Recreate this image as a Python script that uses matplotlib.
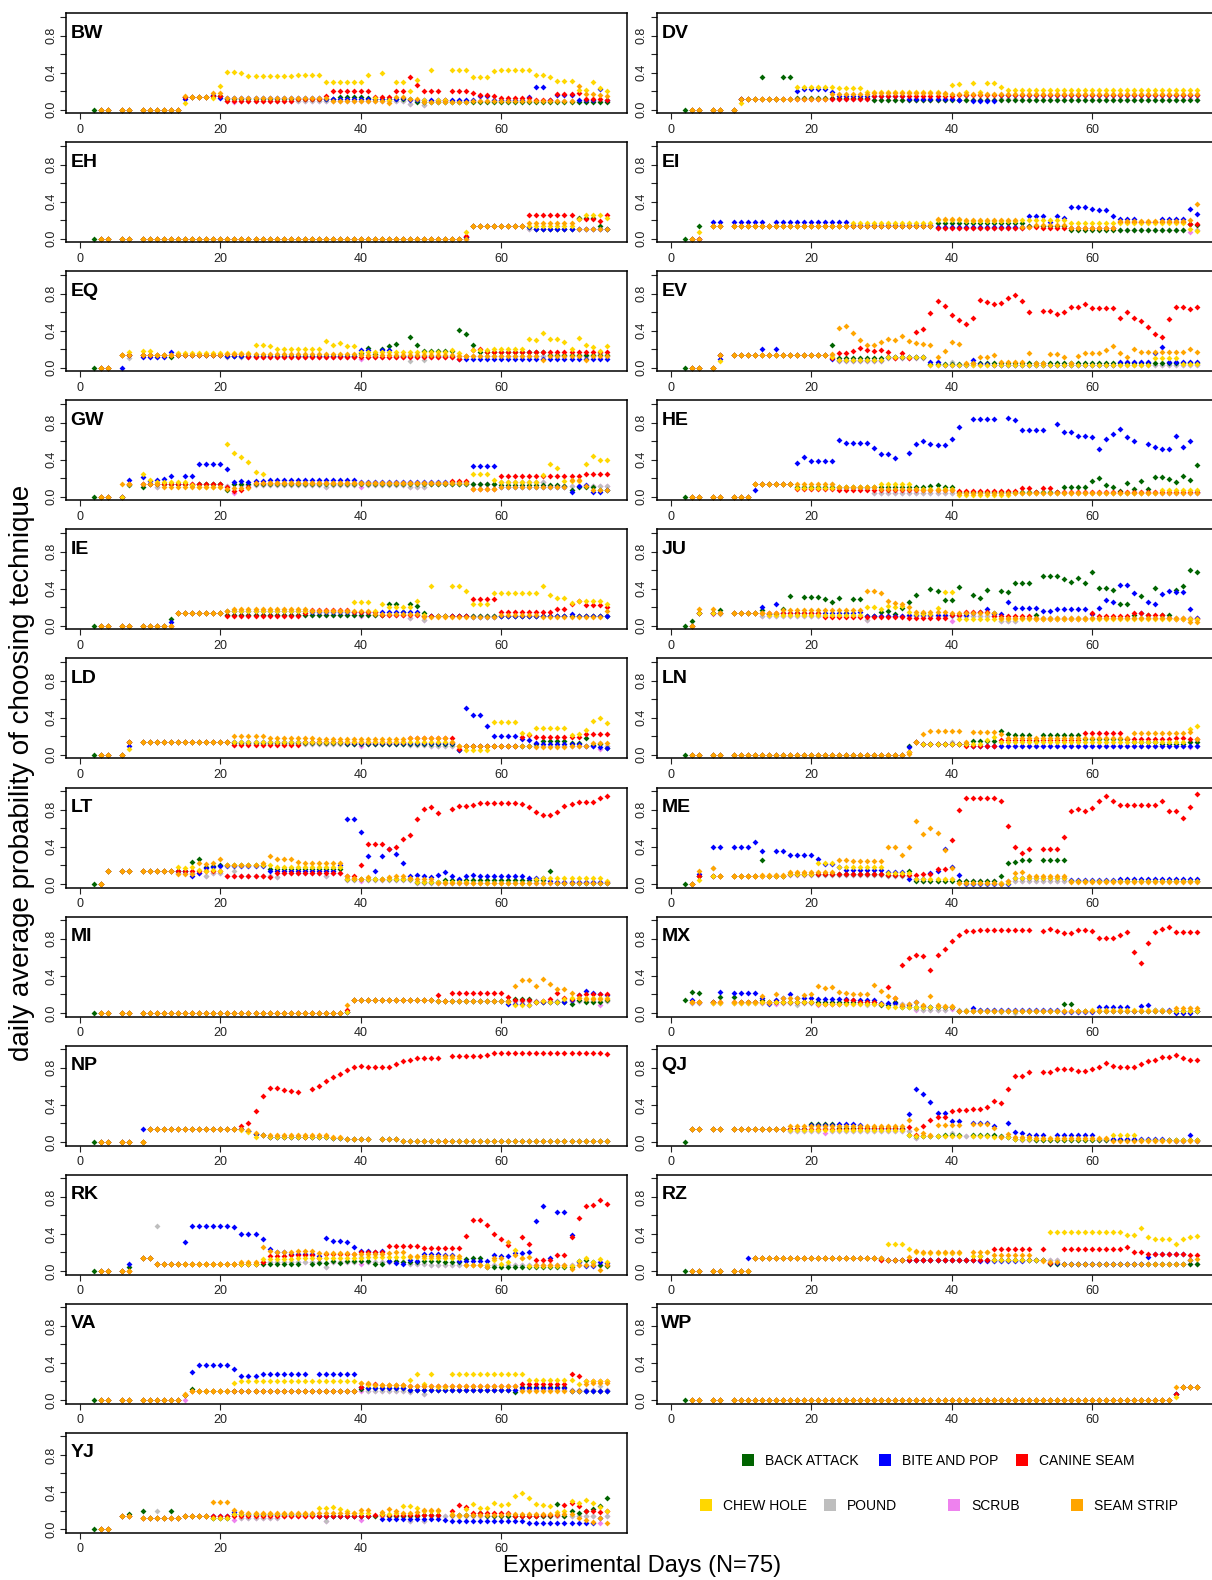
import matplotlib
matplotlib.use("Agg")
import matplotlib.pyplot as plt
from matplotlib.lines import Line2D

plt.rcParams["font.family"] = ["Liberation Sans", "DejaVu Sans"]

# technique names, colours and the dict keys used in the panel data
TECHNIQUES = ["BACK ATTACK", "BITE AND POP", "CANINE SEAM", "CHEW HOLE", "POUND", "SCRUB", "SEAM STRIP"]
KEYS = ["back", "bite", "canine", "chew", "pound", "scrub", "strip"]
COLORS = ["#006400", "#0000FF", "#FF0000", "#FFD700", "#BEBEBE", "#EE82EE", "#FFA500"]
DRAW_ORDER = [5, 4, 0, 1, 2, 3, 6]
NO_DATA_DAYS = [1, 5, 8]

# each panel: (first day, last day, value) runs.
# "pre" runs are shared by all techniques, per-technique runs override them.
BW = {
    "pre": [(3, 14, 0.0), (16, 18, 0.14)],
    "back": [(2, 2, 0.0), (15, 15, 0.14), (19, 20, 0.15), (21, 36, 0.11), (37, 40, 0.14), (41, 41, 0.12), (42, 47, 0.11), (48, 75, 0.08)],
    "bite": [(15, 15, 0.11), (19, 19, 0.16), (20, 20, 0.13), (21, 34, 0.12), (35, 45, 0.11), (46, 46, 0.12), (47, 56, 0.10), (57, 58, 0.15),
             (59, 63, 0.10), (64, 64, 0.14), (65, 66, 0.24), (67, 67, 0.10), (68, 70, 0.16), (71, 73, 0.10), (74, 74, 0.22), (75, 75, 0.10)],
    "canine": [(15, 15, 0.14), (19, 20, 0.15), (21, 30, 0.09), (31, 34, 0.11), (35, 35, 0.15), (36, 41, 0.20), (42, 44, 0.14), (45, 46, 0.20),
               (47, 47, 0.35), (48, 48, 0.27), (49, 51, 0.20), (52, 52, 0.10), (53, 55, 0.20), (56, 56, 0.18), (57, 58, 0.16), (59, 59, 0.15),
               (60, 64, 0.13), (65, 67, 0.10), (68, 70, 0.17), (71, 71, 0.18), (72, 74, 0.11), (75, 75, 0.10)],
    "chew": [(15, 15, 0.07), (19, 19, 0.13), (20, 20, 0.26), (21, 22, 0.41), (23, 23, 0.39), (24, 30, 0.36), (31, 34, 0.37), (35, 40, 0.30),
             (41, 41, 0.37), (42, 42, 0.12), (43, 43, 0.40), (44, 44, 0.10), (45, 46, 0.30), (47, 47, 0.20), (48, 48, 0.32), (49, 49, 0.10),
             (50, 50, 0.43), (51, 52, 0.10), (53, 55, 0.43), (56, 58, 0.35), (59, 59, 0.42), (60, 64, 0.43), (65, 66, 0.37), (67, 67, 0.35),
             (68, 70, 0.31), (71, 72, 0.21), (73, 73, 0.30), (74, 74, 0.23), (75, 75, 0.20)],
    "pound": [(15, 15, 0.14), (19, 20, 0.15), (21, 21, 0.09), (22, 22, 0.12), (23, 46, 0.09), (47, 47, 0.06), (48, 48, 0.09), (49, 49, 0.05),
              (50, 75, 0.09)],
    "scrub": [(15, 15, 0.14), (19, 20, 0.15), (21, 21, 0.09), (22, 22, 0.08), (23, 46, 0.09), (47, 47, 0.06), (48, 48, 0.09), (49, 49, 0.05),
              (50, 75, 0.09)],
    "strip": [(15, 15, 0.15), (19, 20, 0.18), (21, 35, 0.12), (36, 43, 0.09), (44, 44, 0.07), (45, 46, 0.14), (47, 48, 0.11), (49, 55, 0.08),
              (56, 70, 0.09), (71, 71, 0.26), (72, 73, 0.17), (74, 74, 0.16), (75, 75, 0.15)],
}

DV = {
    "pre": [(3, 9, 0.0), (11, 17, 0.11)],
    "back": [(2, 2, 0.0), (10, 10, 0.11), (13, 13, 0.35), (16, 17, 0.35), (18, 28, 0.12), (29, 75, 0.10)],
    "bite": [(10, 10, 0.11), (18, 18, 0.20), (19, 22, 0.22), (23, 23, 0.19), (24, 33, 0.15), (34, 40, 0.11), (41, 41, 0.10), (42, 42, 0.16),
             (43, 46, 0.09), (47, 75, 0.16)],
    "canine": [(10, 10, 0.11), (18, 28, 0.11), (29, 40, 0.15), (41, 75, 0.16)],
    "chew": [(10, 10, 0.07), (18, 23, 0.24), (24, 27, 0.23), (28, 38, 0.19), (39, 39, 0.17), (40, 40, 0.27), (41, 41, 0.28), (42, 42, 0.19),
             (43, 43, 0.29), (44, 44, 0.19), (45, 46, 0.29), (47, 47, 0.24), (48, 75, 0.21)],
    "pound": [(10, 10, 0.11), (18, 28, 0.11), (29, 39, 0.10), (40, 40, 0.16), (41, 46, 0.10), (47, 49, 0.11), (50, 73, 0.10), (74, 74, 0.16),
              (75, 75, 0.10)],
    "scrub": [(10, 10, 0.11), (18, 28, 0.11), (29, 39, 0.10), (40, 40, 0.11), (41, 73, 0.10), (74, 74, 0.11), (75, 75, 0.10)],
    "strip": [(10, 10, 0.11), (18, 22, 0.11), (23, 28, 0.17), (29, 39, 0.18), (40, 75, 0.17)],
}

EH = {
    "pre": [(3, 54, 0.0), (56, 63, 0.14)],
    "back": [(2, 2, 0.0), (55, 55, 0.02), (64, 64, 0.13), (65, 70, 0.10), (71, 73, 0.22), (74, 74, 0.14), (75, 75, 0.10)],
    "bite": [(55, 55, 0.02), (64, 64, 0.13), (65, 75, 0.10)],
    "canine": [(55, 55, 0.03), (64, 70, 0.25), (71, 73, 0.21), (74, 74, 0.19), (75, 75, 0.25)],
    "chew": [(55, 55, 0.07), (64, 70, 0.14), (71, 71, 0.21), (72, 74, 0.25), (75, 75, 0.22)],
    "pound": [(55, 55, 0.0), (64, 75, 0.10)],
    "scrub": [(55, 55, 0.0), (64, 75, 0.10)],
    "strip": [(55, 55, 0.0), (64, 70, 0.17), (71, 75, 0.10)],
}

EQ = {
    "pre": [(3, 4, 0.0), (6, 20, 0.14)],
    "back": [(2, 2, 0.0), (13, 13, 0.11), (21, 39, 0.13), (40, 40, 0.16), (41, 41, 0.21), (42, 42, 0.15), (43, 43, 0.20), (44, 44, 0.23),
             (45, 45, 0.26), (46, 46, 0.13), (47, 47, 0.33), (48, 48, 0.24), (49, 53, 0.18), (54, 54, 0.41), (55, 55, 0.36), (56, 56, 0.24),
             (57, 66, 0.17), (67, 75, 0.14)],
    "bite": [(6, 6, 0.0), (9, 12, 0.11), (13, 13, 0.17), (21, 39, 0.13), (40, 41, 0.19), (42, 42, 0.13), (43, 44, 0.19), (45, 53, 0.13),
             (54, 75, 0.09)],
    "canine": [(21, 23, 0.15), (24, 53, 0.12), (54, 54, 0.09), (55, 55, 0.13), (56, 56, 0.19), (57, 57, 0.20), (58, 75, 0.17)],
    "chew": [(7, 7, 0.17), (9, 10, 0.18), (14, 24, 0.16), (25, 26, 0.25), (27, 27, 0.23), (28, 34, 0.20), (35, 35, 0.29), (36, 36, 0.24),
             (37, 37, 0.27), (38, 39, 0.23), (40, 52, 0.17), (53, 53, 0.19), (54, 54, 0.16), (55, 55, 0.13), (56, 58, 0.19), (59, 63, 0.20),
             (64, 64, 0.31), (65, 65, 0.30), (66, 66, 0.37), (67, 68, 0.31), (69, 69, 0.28), (70, 70, 0.20), (71, 71, 0.32), (72, 72, 0.25),
             (73, 73, 0.22), (74, 74, 0.18), (75, 75, 0.23)],
    "pound": [(7, 7, 0.10), (11, 11, 0.11), (21, 21, 0.12), (22, 22, 0.15), (23, 39, 0.12), (40, 40, 0.15), (41, 46, 0.12), (47, 47, 0.07),
              (48, 48, 0.12), (49, 49, 0.08), (50, 53, 0.12), (54, 73, 0.13), (74, 74, 0.16), (75, 75, 0.13)],
    "scrub": [(21, 21, 0.12), (22, 22, 0.13), (23, 39, 0.12), (40, 40, 0.09), (41, 53, 0.12), (54, 73, 0.13), (74, 74, 0.10), (75, 75, 0.13)],
    "strip": [(21, 39, 0.15), (40, 53, 0.14), (54, 65, 0.13), (66, 66, 0.08), (67, 71, 0.13), (72, 72, 0.08), (73, 75, 0.13)],
}

EI = {
    "pre": [(3, 4, 0.0), (6, 37, 0.14)],
    "back": [(2, 2, 0.0), (4, 4, 0.14), (38, 50, 0.17), (51, 56, 0.14), (57, 73, 0.09), (74, 74, 0.16), (75, 75, 0.15)],
    "bite": [(6, 7, 0.18), (9, 13, 0.18), (15, 25, 0.18), (26, 37, 0.15), (38, 50, 0.13), (51, 53, 0.24), (54, 54, 0.18), (55, 55, 0.24),
             (56, 56, 0.22), (57, 59, 0.34), (60, 60, 0.32), (61, 62, 0.31), (63, 63, 0.24), (64, 66, 0.21), (67, 69, 0.18), (70, 73, 0.21),
             (74, 74, 0.32), (75, 75, 0.27)],
    "canine": [(38, 50, 0.11), (51, 52, 0.13), (53, 63, 0.11), (64, 73, 0.18), (74, 75, 0.16)],
    "chew": [(4, 4, 0.07), (26, 37, 0.17), (38, 41, 0.20), (42, 49, 0.19), (50, 56, 0.20), (57, 73, 0.17), (74, 74, 0.10), (75, 75, 0.08)],
    "pound": [(38, 39, 0.11), (40, 40, 0.20), (41, 50, 0.11), (51, 56, 0.14), (57, 63, 0.11), (64, 73, 0.09), (74, 74, 0.16), (75, 75, 0.09)],
    "scrub": [(38, 50, 0.11), (51, 56, 0.14), (57, 63, 0.11), (64, 73, 0.09), (74, 74, 0.07), (75, 75, 0.09)],
    "strip": [(38, 41, 0.21), (42, 49, 0.20), (50, 51, 0.13), (52, 56, 0.15), (57, 63, 0.12), (64, 73, 0.19), (74, 74, 0.20), (75, 75, 0.37)],
}

EV = {
    "pre": [(3, 6, 0.0), (7, 7, 0.14), (9, 22, 0.14)],
    "back": [(2, 2, 0.0), (23, 23, 0.25), (24, 30, 0.10), (31, 36, 0.11), (37, 42, 0.04), (43, 75, 0.05)],
    "bite": [(7, 7, 0.09), (13, 13, 0.20), (15, 15, 0.20), (23, 23, 0.09), (24, 30, 0.08), (31, 36, 0.11), (37, 38, 0.06), (39, 42, 0.03),
             (43, 43, 0.08), (44, 45, 0.04), (46, 63, 0.03), (64, 68, 0.06), (69, 69, 0.16), (70, 70, 0.22), (71, 75, 0.06)],
    "canine": [(23, 23, 0.10), (24, 25, 0.16), (26, 26, 0.18), (27, 27, 0.21), (28, 28, 0.19), (29, 29, 0.18), (30, 30, 0.19), (31, 31, 0.17),
               (32, 32, 0.10), (33, 33, 0.16), (34, 34, 0.10), (35, 35, 0.39), (36, 36, 0.42), (37, 37, 0.59), (38, 38, 0.72), (39, 39, 0.67),
               (40, 40, 0.57), (41, 41, 0.52), (42, 42, 0.47), (43, 43, 0.54), (44, 44, 0.73), (45, 45, 0.71), (46, 46, 0.69), (47, 47, 0.70),
               (48, 48, 0.75), (49, 49, 0.78), (50, 50, 0.72), (51, 51, 0.60), (53, 54, 0.61), (55, 55, 0.58), (56, 56, 0.60), (57, 57, 0.65),
               (58, 58, 0.66), (59, 59, 0.69), (60, 63, 0.64), (64, 64, 0.54), (65, 65, 0.60), (66, 66, 0.54), (67, 67, 0.50), (68, 68, 0.44),
               (69, 69, 0.36), (70, 70, 0.33), (71, 71, 0.53), (72, 73, 0.65), (74, 74, 0.63), (75, 75, 0.65)],
    "chew": [(7, 7, 0.07), (23, 23, 0.12), (24, 30, 0.08), (31, 36, 0.12), (37, 68, 0.03), (69, 72, 0.10), (73, 75, 0.04)],
    "pound": [(23, 23, 0.14), (24, 30, 0.07), (31, 36, 0.10), (37, 39, 0.03), (40, 40, 0.06), (41, 75, 0.03)],
    "scrub": [(23, 23, 0.14), (24, 30, 0.07), (31, 36, 0.10), (37, 75, 0.03)],
    "strip": [(23, 23, 0.15), (24, 24, 0.43), (25, 25, 0.45), (26, 26, 0.37), (27, 27, 0.30), (28, 29, 0.25), (30, 30, 0.28), (31, 31, 0.31),
              (32, 32, 0.30), (33, 33, 0.34), (34, 34, 0.29), (35, 35, 0.27), (36, 36, 0.26), (37, 37, 0.25), (38, 38, 0.11), (39, 39, 0.18),
              (40, 40, 0.28), (41, 41, 0.26), (42, 43, 0.05), (44, 44, 0.11), (45, 45, 0.12), (46, 46, 0.14), (47, 50, 0.06), (51, 51, 0.16),
              (52, 53, 0.05), (54, 55, 0.15), (56, 56, 0.11), (57, 57, 0.05), (58, 58, 0.13), (59, 61, 0.16), (62, 62, 0.19), (63, 63, 0.23),
              (64, 64, 0.16), (65, 65, 0.12), (66, 66, 0.20), (67, 73, 0.17), (74, 74, 0.20), (75, 75, 0.17)],
}

GW = {
    "pre": [(3, 6, 0.0), (7, 20, 0.14)],
    "back": [(2, 2, 0.0), (7, 7, 0.13), (9, 9, 0.11), (16, 16, 0.13), (21, 21, 0.07), (22, 59, 0.14), (60, 68, 0.13), (69, 69, 0.12),
             (70, 70, 0.07), (71, 71, 0.10), (72, 72, 0.11), (73, 73, 0.10), (74, 75, 0.07)],
    "bite": [(7, 7, 0.18), (9, 9, 0.21), (10, 10, 0.17), (11, 11, 0.18), (12, 12, 0.19), (13, 13, 0.22), (15, 16, 0.22), (17, 20, 0.35),
             (21, 21, 0.30), (22, 22, 0.16), (23, 23, 0.17), (24, 24, 0.16), (25, 26, 0.17), (27, 39, 0.18), (40, 55, 0.16), (56, 59, 0.33),
             (60, 69, 0.10), (70, 70, 0.05), (71, 71, 0.12), (72, 72, 0.13), (73, 74, 0.05), (75, 75, 0.07)],
    "canine": [(21, 21, 0.10), (22, 22, 0.06), (23, 23, 0.07), (24, 24, 0.10), (25, 52, 0.15), (53, 55, 0.17), (56, 59, 0.08), (60, 71, 0.22),
               (72, 75, 0.25)],
    "chew": [(9, 9, 0.25), (10, 10, 0.18), (11, 15, 0.16), (16, 16, 0.13), (17, 20, 0.11), (21, 21, 0.57), (22, 22, 0.47), (23, 23, 0.43),
             (24, 24, 0.38), (25, 25, 0.27), (26, 26, 0.24), (27, 55, 0.15), (56, 58, 0.25), (59, 59, 0.18), (60, 65, 0.16), (66, 66, 0.23),
             (67, 67, 0.35), (68, 68, 0.31), (69, 71, 0.17), (72, 72, 0.35), (73, 73, 0.44), (74, 75, 0.40)],
    "pound": [(11, 11, 0.11), (21, 21, 0.12), (22, 22, 0.14), (23, 34, 0.13), (35, 35, 0.11), (36, 39, 0.13), (40, 40, 0.15), (41, 46, 0.13),
              (47, 49, 0.11), (50, 59, 0.14), (60, 66, 0.16), (67, 75, 0.12)],
    "scrub": [(11, 11, 0.11), (21, 21, 0.12), (22, 22, 0.04), (23, 34, 0.13), (35, 35, 0.11), (36, 39, 0.13), (40, 40, 0.11), (41, 46, 0.13),
              (47, 49, 0.11), (50, 59, 0.14), (60, 66, 0.16), (67, 75, 0.12)],
    "strip": [(6, 6, 0.14), (12, 20, 0.11), (21, 21, 0.08), (22, 24, 0.09), (25, 55, 0.15), (56, 59, 0.08), (60, 69, 0.10), (70, 71, 0.18),
              (72, 72, 0.12), (73, 75, 0.07)],
}

HE = {
    "pre": [(3, 11, 0.0), (12, 17, 0.14)],
    "back": [(2, 2, 0.0), (18, 36, 0.10), (37, 37, 0.12), (38, 38, 0.13), (39, 40, 0.10), (41, 55, 0.05), (56, 59, 0.10), (60, 60, 0.17),
             (61, 61, 0.20), (62, 62, 0.13), (63, 63, 0.10), (64, 64, 0.06), (65, 65, 0.15), (66, 66, 0.08), (67, 67, 0.17), (68, 68, 0.08),
             (69, 70, 0.21), (71, 71, 0.19), (72, 72, 0.16), (73, 73, 0.22), (74, 74, 0.18), (75, 75, 0.34)],
    "bite": [(12, 12, 0.07), (18, 18, 0.36), (19, 19, 0.43), (20, 23, 0.39), (24, 24, 0.61), (25, 28, 0.58), (29, 29, 0.53), (30, 31, 0.46),
             (32, 32, 0.42), (34, 34, 0.47), (35, 35, 0.57), (36, 36, 0.60), (37, 37, 0.57), (38, 39, 0.56), (40, 40, 0.62), (41, 41, 0.75),
             (43, 46, 0.84), (48, 48, 0.85), (49, 49, 0.83), (50, 53, 0.72), (55, 55, 0.78), (56, 57, 0.70), (58, 59, 0.66), (60, 60, 0.64),
             (61, 61, 0.52), (62, 62, 0.62), (63, 63, 0.68), (64, 64, 0.73), (65, 65, 0.65), (66, 66, 0.60), (68, 68, 0.57), (69, 69, 0.54),
             (70, 71, 0.51), (72, 72, 0.66), (73, 73, 0.54), (74, 74, 0.60), (75, 75, 0.05)],
    "canine": [(18, 23, 0.08), (24, 40, 0.07), (41, 49, 0.06), (50, 51, 0.09), (52, 52, 0.05), (53, 54, 0.09), (55, 75, 0.05)],
    "chew": [(18, 23, 0.09), (24, 29, 0.10), (30, 34, 0.14), (35, 40, 0.08), (41, 48, 0.02), (49, 69, 0.04), (70, 75, 0.07)],
    "pound": [(18, 22, 0.09), (23, 23, 0.14), (24, 28, 0.09), (29, 75, 0.04)],
    "scrub": [(18, 28, 0.09), (29, 75, 0.04)],
    "strip": [(18, 23, 0.14), (24, 29, 0.11), (30, 35, 0.08), (36, 40, 0.07), (41, 75, 0.04)],
}

IE = {
    "pre": [(3, 13, 0.0), (14, 20, 0.14)],
    "back": [(2, 2, 0.0), (13, 13, 0.07), (21, 43, 0.12), (44, 45, 0.23), (46, 46, 0.15), (47, 47, 0.23), (48, 48, 0.21), (49, 49, 0.14),
             (50, 75, 0.10)],
    "bite": [(13, 13, 0.04), (21, 32, 0.16), (33, 48, 0.15), (49, 55, 0.10), (56, 59, 0.09), (60, 69, 0.11), (70, 70, 0.13), (71, 75, 0.10)],
    "canine": [(21, 31, 0.11), (32, 32, 0.14), (33, 38, 0.17), (39, 42, 0.15), (43, 48, 0.12), (49, 55, 0.10), (56, 59, 0.29), (60, 67, 0.15),
               (68, 69, 0.18), (70, 70, 0.23), (71, 71, 0.27), (72, 74, 0.22), (75, 75, 0.20)],
    "chew": [(21, 38, 0.16), (39, 41, 0.26), (42, 42, 0.16), (43, 43, 0.24), (44, 47, 0.20), (48, 48, 0.27), (49, 49, 0.12), (50, 50, 0.43),
             (51, 52, 0.10), (53, 54, 0.43), (55, 55, 0.38), (56, 58, 0.24), (59, 65, 0.35), (66, 66, 0.43), (67, 67, 0.33), (68, 69, 0.30),
             (70, 70, 0.25), (71, 74, 0.27), (75, 75, 0.23)],
    "pound": [(21, 21, 0.12), (22, 22, 0.16), (23, 39, 0.12), (40, 40, 0.15), (41, 46, 0.12), (47, 47, 0.08), (48, 48, 0.12), (49, 49, 0.06),
              (50, 75, 0.10)],
    "scrub": [(21, 39, 0.12), (40, 40, 0.10), (41, 46, 0.12), (47, 47, 0.08), (48, 48, 0.12), (49, 49, 0.06), (50, 75, 0.10)],
    "strip": [(21, 21, 0.16), (22, 32, 0.18), (33, 41, 0.16), (42, 48, 0.13), (49, 59, 0.09), (60, 65, 0.12), (66, 74, 0.09), (75, 75, 0.16)],
}

JU = {
    "pre": [(3, 3, 0.0), (4, 4, 0.14), (6, 7, 0.14), (9, 12, 0.14)],
    "back": [(2, 2, 0.0), (3, 3, 0.05), (7, 7, 0.17), (13, 13, 0.17), (14, 15, 0.13), (16, 16, 0.18), (17, 17, 0.32), (18, 18, 0.14),
             (19, 21, 0.31), (22, 22, 0.29), (23, 23, 0.26), (24, 24, 0.30), (25, 25, 0.14), (26, 27, 0.29), (28, 29, 0.10), (30, 30, 0.15),
             (31, 31, 0.16), (32, 32, 0.13), (33, 33, 0.19), (34, 34, 0.26), (35, 35, 0.33), (36, 36, 0.14), (37, 37, 0.40), (38, 38, 0.37),
             (39, 40, 0.28), (41, 41, 0.42), (42, 42, 0.14), (43, 43, 0.33), (44, 44, 0.30), (45, 45, 0.39), (46, 46, 0.14), (47, 47, 0.37),
             (48, 48, 0.36), (49, 51, 0.46), (52, 52, 0.12), (53, 55, 0.54), (56, 56, 0.51), (57, 57, 0.47), (58, 58, 0.52), (59, 59, 0.46),
             (60, 60, 0.58), (61, 62, 0.41), (63, 63, 0.39), (64, 64, 0.23), (65, 65, 0.24), (66, 66, 0.12), (67, 67, 0.32), (68, 68, 0.12),
             (69, 69, 0.41), (70, 71, 0.12), (72, 72, 0.39), (73, 73, 0.43), (74, 74, 0.60), (75, 75, 0.58)],
    "bite": [(13, 13, 0.20), (14, 14, 0.13), (15, 15, 0.23), (16, 26, 0.14), (27, 27, 0.15), (28, 33, 0.11), (34, 42, 0.12), (43, 43, 0.14),
             (44, 44, 0.15), (45, 45, 0.18), (46, 47, 0.13), (48, 48, 0.26), (49, 52, 0.19), (53, 54, 0.16), (55, 59, 0.18), (60, 60, 0.13),
             (61, 61, 0.19), (62, 62, 0.28), (63, 63, 0.26), (64, 65, 0.44), (66, 66, 0.35), (67, 67, 0.14), (68, 68, 0.26), (69, 69, 0.24),
             (70, 70, 0.34), (71, 71, 0.37), (72, 73, 0.36), (74, 74, 0.18), (75, 75, 0.08)],
    "canine": [(13, 21, 0.14), (22, 33, 0.09), (34, 39, 0.08), (40, 41, 0.12), (42, 45, 0.15), (46, 51, 0.11), (52, 59, 0.07), (60, 60, 0.14),
               (61, 61, 0.10), (62, 65, 0.11), (66, 67, 0.14), (68, 70, 0.12), (71, 71, 0.08), (72, 75, 0.07)],
    "chew": [(13, 13, 0.14), (14, 27, 0.12), (28, 29, 0.20), (30, 30, 0.18), (31, 31, 0.21), (32, 32, 0.20), (33, 33, 0.21), (34, 34, 0.15),
             (35, 37, 0.13), (38, 38, 0.19), (39, 40, 0.36), (41, 75, 0.07)],
    "pound": [(7, 7, 0.13), (13, 27, 0.10), (28, 28, 0.06), (29, 46, 0.10), (47, 49, 0.05), (50, 75, 0.08)],
    "scrub": [(6, 6, 0.13), (13, 27, 0.10), (28, 28, 0.06), (29, 39, 0.10), (40, 40, 0.05), (41, 46, 0.10), (47, 49, 0.05), (50, 75, 0.08)],
    "strip": [(3, 3, 0.0), (4, 4, 0.18), (6, 6, 0.18), (13, 15, 0.14), (16, 27, 0.17), (28, 29, 0.38), (30, 30, 0.35), (31, 31, 0.27),
              (32, 32, 0.25), (33, 33, 0.24), (34, 34, 0.20), (35, 39, 0.15), (40, 46, 0.14), (47, 73, 0.08), (74, 75, 0.04)],
}

LD = {
    "pre": [(3, 6, 0.0), (7, 7, 0.14), (9, 21, 0.14)],
    "back": [(2, 2, 0.0), (22, 37, 0.13), (38, 53, 0.12), (54, 54, 0.05), (55, 64, 0.09), (65, 65, 0.12), (66, 69, 0.15), (70, 71, 0.13),
             (72, 72, 0.18), (73, 73, 0.11), (74, 74, 0.12), (75, 75, 0.07)],
    "bite": [(7, 7, 0.10), (22, 37, 0.14), (38, 53, 0.13), (54, 54, 0.05), (55, 55, 0.50), (56, 57, 0.43), (58, 58, 0.31), (59, 62, 0.20),
             (63, 63, 0.17), (64, 64, 0.16), (65, 65, 0.13), (66, 71, 0.12), (72, 72, 0.10), (73, 73, 0.09), (74, 74, 0.08), (75, 75, 0.07)],
    "canine": [(22, 31, 0.11), (32, 46, 0.14), (47, 53, 0.18), (54, 54, 0.06), (55, 62, 0.09), (63, 63, 0.19), (64, 64, 0.21), (65, 71, 0.19),
               (72, 75, 0.22)],
    "chew": [(7, 7, 0.06), (22, 53, 0.14), (54, 54, 0.10), (55, 58, 0.05), (59, 62, 0.35), (63, 63, 0.24), (64, 64, 0.22), (65, 69, 0.29),
             (70, 70, 0.21), (71, 71, 0.22), (72, 72, 0.27), (73, 73, 0.36), (74, 74, 0.40), (75, 75, 0.34)],
    "pound": [(22, 22, 0.14), (23, 39, 0.12), (40, 40, 0.13), (41, 46, 0.12), (47, 49, 0.11), (50, 73, 0.09), (74, 74, 0.13), (75, 75, 0.09)],
    "scrub": [(22, 22, 0.11), (23, 39, 0.12), (40, 40, 0.10), (41, 46, 0.12), (47, 49, 0.11), (50, 73, 0.09), (74, 74, 0.06), (75, 75, 0.09)],
    "strip": [(22, 26, 0.20), (27, 33, 0.18), (34, 46, 0.17), (47, 52, 0.18), (53, 53, 0.14), (54, 64, 0.09), (65, 69, 0.08), (70, 72, 0.09),
              (73, 75, 0.13)],
}

LN = {
    "pre": [(3, 33, 0.0), (34, 34, 0.03), (35, 35, 0.14)],
    "back": [(2, 2, 0.0), (34, 34, 0.10), (36, 42, 0.12), (43, 46, 0.15), (47, 47, 0.26), (48, 48, 0.22), (49, 51, 0.21), (52, 52, 0.15),
             (53, 58, 0.21), (59, 65, 0.17), (66, 69, 0.14), (70, 73, 0.12), (74, 75, 0.14)],
    "bite": [(34, 34, 0.08), (36, 42, 0.12), (43, 75, 0.10)],
    "canine": [(36, 41, 0.12), (42, 46, 0.10), (47, 58, 0.16), (59, 64, 0.24), (65, 71, 0.17), (72, 73, 0.18), (74, 75, 0.17)],
    "chew": [(36, 44, 0.12), (45, 45, 0.16), (46, 46, 0.19), (47, 73, 0.14), (74, 74, 0.28), (75, 75, 0.31)],
    "pound": [(36, 39, 0.12), (40, 40, 0.14), (41, 42, 0.12), (43, 73, 0.10), (74, 74, 0.14), (75, 75, 0.10)],
    "scrub": [(36, 42, 0.12), (43, 73, 0.10), (74, 74, 0.08), (75, 75, 0.10)],
    "strip": [(34, 34, 0.01), (36, 36, 0.22), (37, 41, 0.26), (42, 42, 0.14), (43, 46, 0.25), (47, 47, 0.22), (48, 65, 0.18), (66, 73, 0.23),
              (74, 74, 0.25), (75, 75, 0.17)],
}

LT = {
    "pre": [(3, 3, 0.0), (4, 13, 0.14)],
    "back": [(2, 2, 0.0), (14, 15, 0.14), (16, 16, 0.24), (17, 17, 0.27), (18, 18, 0.18), (19, 19, 0.19), (20, 26, 0.20), (27, 37, 0.16),
             (38, 47, 0.05), (48, 51, 0.02), (52, 66, 0.04), (67, 67, 0.14), (68, 75, 0.01)],
    "bite": [(14, 15, 0.14), (16, 16, 0.08), (17, 17, 0.12), (18, 18, 0.17), (19, 19, 0.18), (20, 26, 0.19), (27, 36, 0.14), (37, 37, 0.20),
             (38, 39, 0.70), (40, 40, 0.56), (41, 41, 0.30), (42, 42, 0.14), (43, 43, 0.30), (44, 44, 0.38), (45, 45, 0.32), (46, 46, 0.23),
             (47, 47, 0.08), (48, 48, 0.10), (49, 49, 0.08), (50, 50, 0.07), (51, 51, 0.10), (52, 52, 0.13), (53, 53, 0.08), (54, 54, 0.05),
             (55, 55, 0.08), (56, 56, 0.10), (57, 63, 0.08), (64, 66, 0.06), (67, 67, 0.03), (68, 75, 0.02)],
    "canine": [(14, 20, 0.14), (21, 26, 0.08), (27, 27, 0.07), (28, 37, 0.12), (38, 39, 0.09), (40, 40, 0.20), (41, 43, 0.43), (44, 44, 0.38),
               (45, 45, 0.40), (46, 46, 0.48), (47, 47, 0.53), (48, 48, 0.70), (49, 49, 0.81), (50, 50, 0.83), (51, 51, 0.76), (53, 53, 0.81),
               (54, 55, 0.84), (56, 56, 0.85), (57, 62, 0.87), (63, 63, 0.86), (64, 64, 0.83), (65, 65, 0.78), (66, 67, 0.74), (68, 68, 0.78),
               (69, 69, 0.84), (70, 70, 0.86), (71, 73, 0.88), (74, 74, 0.93), (75, 75, 0.95)],
    "chew": [(14, 14, 0.18), (15, 15, 0.17), (16, 16, 0.18), (17, 17, 0.15), (18, 18, 0.14), (19, 19, 0.15), (20, 20, 0.14), (21, 27, 0.20),
             (28, 37, 0.18), (38, 47, 0.05), (48, 55, 0.02), (56, 64, 0.01), (65, 65, 0.05), (66, 74, 0.06), (75, 75, 0.03)],
    "pound": [(14, 14, 0.12), (15, 15, 0.14), (16, 17, 0.12), (18, 18, 0.08), (19, 20, 0.12), (21, 21, 0.08), (22, 22, 0.14), (23, 27, 0.08),
              (28, 28, 0.07), (29, 34, 0.12), (35, 35, 0.08), (36, 37, 0.12), (38, 39, 0.04), (40, 40, 0.05), (41, 47, 0.04), (48, 75, 0.01)],
    "scrub": [(14, 17, 0.12), (18, 18, 0.08), (19, 20, 0.12), (21, 27, 0.08), (28, 28, 0.07), (29, 34, 0.12), (35, 35, 0.08), (36, 37, 0.12),
              (38, 39, 0.04), (40, 40, 0.03), (41, 47, 0.04), (48, 75, 0.01)],
    "strip": [(14, 16, 0.11), (17, 17, 0.22), (18, 18, 0.21), (19, 19, 0.22), (20, 20, 0.27), (21, 25, 0.20), (26, 26, 0.23), (27, 27, 0.30),
              (28, 30, 0.27), (31, 31, 0.24), (32, 37, 0.23), (38, 38, 0.08), (39, 39, 0.06), (40, 40, 0.05), (41, 41, 0.07), (43, 43, 0.05),
              (44, 44, 0.07), (45, 45, 0.08), (46, 46, 0.09), (47, 47, 0.06), (48, 50, 0.05), (51, 75, 0.01)],
}

ME = {
    "pre": [(3, 3, 0.0), (4, 4, 0.08), (6, 7, 0.08), (9, 12, 0.08)],
    "back": [(2, 2, 0.0), (13, 13, 0.26), (14, 16, 0.08), (17, 30, 0.11), (31, 33, 0.10), (34, 34, 0.14), (35, 46, 0.03), (47, 47, 0.08),
             (48, 48, 0.22), (49, 49, 0.24), (50, 51, 0.26), (53, 56, 0.26), (57, 75, 0.03)],
    "bite": [(4, 4, 0.11), (6, 7, 0.40), (9, 11, 0.40), (12, 12, 0.45), (13, 13, 0.36), (15, 16, 0.36), (17, 20, 0.31), (21, 21, 0.27),
             (22, 23, 0.21), (24, 24, 0.18), (25, 30, 0.15), (31, 33, 0.13), (34, 36, 0.05), (37, 37, 0.12), (38, 38, 0.14), (39, 39, 0.38),
             (40, 40, 0.18), (41, 41, 0.10), (42, 48, 0.00), (49, 56, 0.06), (57, 63, 0.04), (64, 75, 0.05)],
    "canine": [(13, 16, 0.08), (17, 30, 0.11), (31, 35, 0.10), (36, 37, 0.11), (38, 39, 0.16), (40, 40, 0.47), (41, 41, 0.80), (42, 46, 0.93),
               (47, 47, 0.90), (48, 48, 0.62), (49, 49, 0.40), (50, 50, 0.33), (51, 51, 0.38), (53, 55, 0.38), (56, 56, 0.51), (57, 57, 0.79),
               (58, 58, 0.81), (59, 59, 0.79), (60, 60, 0.82), (61, 61, 0.89), (62, 62, 0.95), (63, 63, 0.89), (64, 69, 0.85), (70, 70, 0.90),
               (71, 72, 0.79), (73, 73, 0.71), (74, 74, 0.83), (75, 75, 0.97)],
    "chew": [(4, 4, 0.04), (13, 16, 0.08), (17, 20, 0.11), (21, 23, 0.22), (24, 30, 0.18), (31, 34, 0.12), (35, 40, 0.05), (41, 48, 0.01),
             (49, 56, 0.06), (57, 75, 0.03)],
    "pound": [(6, 6, 0.17), (13, 14, 0.08), (15, 15, 0.10), (16, 16, 0.08), (17, 30, 0.10), (31, 34, 0.08), (35, 35, 0.04), (36, 39, 0.03),
              (40, 40, 0.18), (41, 46, 0.03), (47, 47, 0.01), (48, 75, 0.03)],
    "scrub": [(13, 16, 0.08), (17, 30, 0.10), (31, 34, 0.08), (35, 35, 0.04), (36, 39, 0.03), (40, 40, 0.05), (41, 46, 0.03), (47, 47, 0.01),
              (48, 75, 0.03)],
    "strip": [(4, 4, 0.14), (6, 6, 0.17), (9, 12, 0.09), (13, 16, 0.10), (17, 23, 0.13), (24, 25, 0.26), (26, 30, 0.25), (31, 32, 0.40),
              (33, 33, 0.31), (34, 34, 0.40), (35, 35, 0.68), (36, 36, 0.54), (37, 37, 0.60), (38, 38, 0.55), (39, 39, 0.37), (40, 40, 0.17),
              (41, 46, 0.01), (47, 47, 0.00), (48, 48, 0.03), (49, 49, 0.12), (50, 50, 0.13), (51, 56, 0.09), (57, 75, 0.02)],
}

MI = {
    "pre": [(3, 37, 0.0), (38, 38, 0.01), (39, 50, 0.14)],
    "back": [(2, 2, 0.0), (51, 61, 0.13), (62, 64, 0.15), (65, 69, 0.12), (70, 70, 0.10), (71, 71, 0.14), (72, 74, 0.12), (75, 75, 0.14)],
    "bite": [(51, 60, 0.13), (61, 63, 0.10), (64, 64, 0.09), (65, 69, 0.12), (70, 70, 0.14), (71, 71, 0.19), (72, 72, 0.24), (73, 73, 0.21),
             (74, 74, 0.20), (75, 75, 0.19)],
    "canine": [(38, 38, 0.03), (51, 51, 0.19), (52, 52, 0.13), (53, 60, 0.21), (61, 61, 0.17), (62, 64, 0.14), (65, 65, 0.12), (66, 66, 0.13),
               (67, 67, 0.15), (68, 68, 0.21), (69, 69, 0.16), (70, 70, 0.15), (71, 71, 0.19), (72, 75, 0.20)],
    "chew": [(51, 60, 0.13), (61, 61, 0.12), (62, 62, 0.09), (63, 64, 0.08), (65, 65, 0.12), (66, 66, 0.13), (67, 68, 0.12), (69, 69, 0.15),
             (70, 75, 0.16)],
    "pound": [(51, 75, 0.13)],
    "scrub": [(51, 73, 0.13), (74, 74, 0.08), (75, 75, 0.13)],
    "strip": [(38, 38, 0.08), (51, 61, 0.13), (62, 62, 0.29), (63, 63, 0.36), (64, 64, 0.35), (65, 65, 0.29), (66, 66, 0.37), (67, 67, 0.31),
              (68, 69, 0.26), (70, 70, 0.22), (71, 71, 0.16), (72, 75, 0.15)],
}

MX = {
    "pre": [],
    "back": [(2, 2, 0.14), (3, 3, 0.23), (4, 4, 0.22), (6, 6, 0.12), (7, 7, 0.17), (9, 9, 0.17), (10, 12, 0.12), (13, 13, 0.14),
             (14, 29, 0.12), (30, 31, 0.09), (32, 32, 0.12), (33, 40, 0.06), (41, 55, 0.02), (56, 57, 0.10), (58, 75, 0.02)],
    "bite": [(3, 3, 0.14), (4, 4, 0.12), (6, 6, 0.12), (7, 7, 0.23), (9, 12, 0.22), (13, 13, 0.16), (14, 14, 0.10), (15, 15, 0.14),
             (16, 16, 0.16), (17, 17, 0.20), (18, 20, 0.16), (21, 25, 0.15), (26, 29, 0.14), (30, 32, 0.11), (33, 33, 0.07), (34, 34, 0.08),
             (35, 35, 0.12), (36, 36, 0.07), (37, 40, 0.06), (41, 41, 0.02), (43, 43, 0.05), (44, 55, 0.03), (56, 60, 0.01), (61, 65, 0.06),
             (66, 66, 0.02), (67, 67, 0.07), (68, 68, 0.08), (69, 71, 0.03), (72, 74, 0.00), (75, 75, 0.02)],
    "canine": [(3, 4, 0.12), (6, 7, 0.12), (9, 20, 0.12), (21, 24, 0.10), (25, 26, 0.14), (27, 29, 0.12), (30, 30, 0.10), (31, 31, 0.28),
               (32, 32, 0.16), (33, 33, 0.52), (34, 34, 0.59), (35, 35, 0.62), (36, 36, 0.61), (37, 37, 0.46), (38, 38, 0.63), (39, 39, 0.69),
               (40, 40, 0.78), (41, 41, 0.84), (42, 43, 0.88), (44, 44, 0.90), (45, 48, 0.89), (49, 49, 0.90), (50, 51, 0.89), (53, 53, 0.88),
               (54, 54, 0.91), (55, 55, 0.88), (56, 57, 0.86), (58, 59, 0.90), (60, 60, 0.88), (61, 63, 0.81), (64, 64, 0.84), (65, 65, 0.87),
               (66, 66, 0.66), (67, 67, 0.54), (68, 68, 0.75), (69, 69, 0.87), (70, 70, 0.91), (71, 71, 0.93), (72, 75, 0.87)],
    "chew": [(3, 4, 0.12), (6, 7, 0.11), (9, 12, 0.11), (13, 20, 0.12), (21, 30, 0.10), (31, 40, 0.06), (41, 59, 0.02), (60, 70, 0.03),
             (71, 75, 0.02)],
    "pound": [(3, 4, 0.11), (6, 7, 0.11), (9, 14, 0.11), (15, 15, 0.14), (16, 17, 0.11), (18, 18, 0.09), (19, 27, 0.11), (28, 28, 0.09),
              (29, 34, 0.10), (35, 35, 0.04), (36, 39, 0.03), (40, 40, 0.06), (41, 46, 0.03), (47, 47, 0.01), (48, 48, 0.02), (49, 49, 0.00),
              (50, 73, 0.02), (74, 74, 0.05), (75, 75, 0.02)],
    "scrub": [(3, 4, 0.11), (6, 7, 0.11), (9, 14, 0.11), (15, 15, 0.10), (16, 20, 0.11), (21, 21, 0.08), (22, 34, 0.10), (35, 39, 0.03),
              (40, 40, 0.04), (41, 73, 0.02), (74, 74, 0.01), (75, 75, 0.02)],
    "strip": [(3, 4, 0.12), (6, 7, 0.12), (9, 12, 0.12), (13, 13, 0.18), (14, 14, 0.11), (15, 15, 0.20), (16, 18, 0.16), (19, 19, 0.19),
              (20, 20, 0.20), (21, 21, 0.29), (22, 22, 0.27), (23, 23, 0.28), (24, 24, 0.23), (25, 25, 0.21), (26, 28, 0.20), (29, 29, 0.30),
              (30, 30, 0.24), (31, 31, 0.18), (32, 32, 0.16), (33, 33, 0.08), (34, 34, 0.10), (35, 35, 0.12), (36, 36, 0.08), (37, 37, 0.18),
              (38, 38, 0.09), (39, 40, 0.07), (41, 71, 0.02), (72, 75, 0.05)],
}

NP = {
    "pre": [(3, 9, 0.0), (10, 22, 0.14), (23, 23, 0.14), (24, 24, 0.12), (25, 25, 0.09), (26, 26, 0.07), (27, 35, 0.05), (36, 37, 0.04),
            (38, 41, 0.03), (43, 45, 0.03), (46, 75, 0.01)],
    "back": [(2, 2, 0.0)],
    "bite": [(9, 9, 0.14)],
    "canine": [(23, 23, 0.17), (24, 24, 0.20), (25, 25, 0.33), (26, 26, 0.50), (27, 28, 0.58), (29, 29, 0.56), (30, 30, 0.55), (31, 31, 0.54),
               (33, 33, 0.57), (34, 34, 0.60), (35, 35, 0.66), (36, 36, 0.70), (37, 37, 0.73), (38, 38, 0.78), (39, 39, 0.81), (40, 40, 0.82),
               (41, 44, 0.81), (45, 45, 0.84), (46, 46, 0.87), (47, 47, 0.89), (48, 51, 0.91), (53, 57, 0.93), (58, 58, 0.94), (59, 74, 0.96),
               (75, 75, 0.95)],
    "chew": [(23, 23, 0.13), (24, 24, 0.11), (25, 25, 0.05)],
    "pound": [],
    "scrub": [],
    "strip": [(24, 24, 0.13), (25, 25, 0.10), (26, 26, 0.08), (27, 35, 0.07), (36, 37, 0.05)],
}

QJ = {
    "pre": [(3, 16, 0.14)],
    "back": [(2, 2, 0.0), (17, 19, 0.14), (20, 23, 0.19), (24, 33, 0.15), (34, 34, 0.07), (35, 38, 0.06), (39, 41, 0.07), (43, 46, 0.07),
             (47, 47, 0.06), (48, 48, 0.05), (49, 51, 0.03), (52, 75, 0.02)],
    "bite": [(17, 19, 0.14), (20, 23, 0.18), (24, 26, 0.19), (27, 27, 0.18), (28, 33, 0.14), (34, 34, 0.30), (35, 35, 0.57), (36, 36, 0.52),
             (37, 37, 0.43), (38, 39, 0.31), (40, 41, 0.23), (43, 45, 0.20), (46, 46, 0.17), (48, 48, 0.20), (49, 49, 0.11), (50, 50, 0.10),
             (51, 53, 0.08), (55, 60, 0.07), (61, 70, 0.03), (71, 71, 0.02), (72, 73, 0.01), (74, 74, 0.08), (75, 75, 0.01)],
    "canine": [(17, 26, 0.14), (27, 32, 0.15), (33, 33, 0.14), (34, 34, 0.16), (35, 35, 0.08), (36, 36, 0.17), (37, 37, 0.24), (38, 39, 0.27),
               (40, 40, 0.33), (41, 42, 0.34), (43, 44, 0.36), (45, 45, 0.38), (46, 46, 0.44), (47, 47, 0.42), (48, 48, 0.57), (49, 50, 0.71),
               (51, 51, 0.76), (53, 54, 0.76), (55, 57, 0.79), (58, 59, 0.77), (60, 60, 0.79), (61, 61, 0.81), (62, 62, 0.85), (63, 63, 0.82),
               (64, 66, 0.81), (67, 67, 0.84), (68, 68, 0.87), (69, 69, 0.89), (70, 71, 0.92), (72, 72, 0.94), (73, 73, 0.91), (74, 75, 0.88)],
    "chew": [(17, 33, 0.13), (34, 34, 0.08), (35, 41, 0.06), (43, 45, 0.06), (46, 48, 0.05), (49, 62, 0.03), (63, 66, 0.08), (67, 75, 0.02)],
    "pound": [(17, 21, 0.12), (22, 22, 0.15), (23, 34, 0.12), (35, 35, 0.04), (36, 39, 0.06), (40, 40, 0.10), (41, 46, 0.06), (47, 48, 0.05),
              (49, 49, 0.03), (50, 75, 0.02)],
    "scrub": [(17, 21, 0.12), (22, 22, 0.10), (23, 34, 0.12), (35, 35, 0.04), (36, 46, 0.06), (47, 48, 0.05), (49, 49, 0.03), (50, 75, 0.02)],
    "strip": [(17, 33, 0.17), (34, 34, 0.24), (35, 35, 0.14), (36, 36, 0.10), (37, 37, 0.08), (38, 41, 0.18), (43, 45, 0.19), (46, 46, 0.15),
              (47, 47, 0.05), (48, 48, 0.09), (49, 51, 0.05), (52, 62, 0.04), (63, 75, 0.01)],
}

RK = {
    "pre": [(3, 7, 0.0), (9, 10, 0.14)],
    "back": [(2, 2, 0.0), (7, 7, 0.04), (11, 31, 0.08), (33, 33, 0.08), (34, 35, 0.09), (36, 36, 0.11), (37, 37, 0.09), (38, 41, 0.11),
             (42, 43, 0.08), (44, 45, 0.11), (46, 48, 0.10), (49, 51, 0.11), (52, 54, 0.10), (55, 55, 0.13), (56, 57, 0.14), (58, 70, 0.04),
             (71, 71, 0.11), (72, 72, 0.12), (73, 73, 0.10), (74, 74, 0.06), (75, 75, 0.05)],
    "bite": [(7, 7, 0.08), (11, 14, 0.08), (15, 15, 0.31), (16, 21, 0.49), (22, 22, 0.48), (23, 25, 0.40), (26, 26, 0.34), (27, 27, 0.24),
             (28, 29, 0.21), (30, 33, 0.18), (34, 34, 0.16), (35, 35, 0.36), (36, 37, 0.32), (38, 38, 0.31), (39, 39, 0.26), (40, 41, 0.22),
             (42, 42, 0.20), (43, 43, 0.22), (44, 44, 0.11), (45, 45, 0.09), (46, 46, 0.08), (47, 47, 0.12), (48, 48, 0.11), (49, 51, 0.18),
             (52, 53, 0.17), (54, 58, 0.11), (59, 59, 0.17), (60, 61, 0.16), (62, 63, 0.19), (64, 64, 0.20), (65, 65, 0.54), (66, 66, 0.70),
             (67, 67, 0.14), (68, 69, 0.64), (70, 70, 0.39), (71, 71, 0.10), (72, 73, 0.05), (74, 74, 0.10), (75, 75, 0.09)],
    "canine": [(11, 25, 0.08), (26, 26, 0.10), (27, 29, 0.16), (30, 33, 0.17), (34, 34, 0.14), (35, 39, 0.18), (40, 43, 0.20), (44, 48, 0.27),
               (49, 54, 0.25), (55, 55, 0.38), (56, 57, 0.55), (58, 58, 0.50), (59, 59, 0.40), (60, 60, 0.34), (61, 61, 0.28), (63, 63, 0.37),
               (64, 64, 0.29), (65, 67, 0.12), (68, 69, 0.17), (70, 70, 0.37), (71, 71, 0.57), (72, 72, 0.70), (73, 73, 0.71), (74, 74, 0.77),
               (75, 75, 0.72)],
    "chew": [(11, 25, 0.08), (26, 30, 0.13), (31, 40, 0.14), (41, 48, 0.15), (49, 54, 0.14), (55, 58, 0.06), (59, 59, 0.12), (60, 60, 0.08),
             (61, 61, 0.10), (62, 62, 0.23), (63, 63, 0.14), (64, 70, 0.05), (71, 71, 0.11), (72, 72, 0.14), (73, 73, 0.10), (74, 74, 0.13),
             (75, 75, 0.10)],
    "pound": [(11, 11, 0.49), (12, 25, 0.08), (26, 34, 0.10), (35, 35, 0.04), (36, 39, 0.10), (40, 40, 0.15), (41, 46, 0.10), (47, 49, 0.08),
              (50, 75, 0.06)],
    "scrub": [(11, 11, 0.08), (12, 25, 0.08), (26, 34, 0.10), (35, 35, 0.04), (36, 39, 0.10), (40, 40, 0.08), (41, 46, 0.10), (47, 49, 0.08),
              (50, 75, 0.06)],
    "strip": [(11, 22, 0.08), (23, 25, 0.10), (26, 26, 0.26), (27, 27, 0.22), (28, 30, 0.20), (31, 33, 0.22), (34, 38, 0.19), (39, 43, 0.18),
              (44, 44, 0.19), (45, 45, 0.21), (46, 46, 0.20), (47, 54, 0.16), (55, 57, 0.06), (58, 58, 0.04), (59, 60, 0.14), (61, 61, 0.31),
              (62, 62, 0.17), (63, 63, 0.14), (64, 64, 0.15), (65, 69, 0.06), (70, 70, 0.02), (71, 73, 0.06), (74, 74, 0.01), (75, 75, 0.06)],
}

RZ = {
    "pre": [(3, 11, 0.0), (12, 29, 0.14)],
    "back": [(2, 2, 0.0), (30, 30, 0.13), (31, 43, 0.12), (44, 44, 0.16), (45, 53, 0.12), (54, 75, 0.07)],
    "bite": [(11, 11, 0.14), (30, 30, 0.14), (31, 43, 0.12), (44, 50, 0.11), (51, 53, 0.12), (54, 55, 0.09), (56, 67, 0.07), (68, 68, 0.15),
             (69, 73, 0.18), (74, 74, 0.12)],
    "canine": [(30, 45, 0.12), (46, 51, 0.24), (53, 53, 0.24), (54, 54, 0.09), (56, 64, 0.24), (65, 65, 0.26), (66, 67, 0.20), (68, 73, 0.18),
               (74, 75, 0.17)],
    "chew": [(30, 30, 0.14), (31, 33, 0.29), (34, 34, 0.24), (35, 35, 0.21), (36, 41, 0.19), (43, 44, 0.16), (45, 45, 0.20), (46, 53, 0.12),
             (54, 64, 0.42), (65, 66, 0.39), (67, 67, 0.46), (68, 68, 0.37), (69, 71, 0.35), (72, 72, 0.29), (73, 73, 0.35), (74, 74, 0.37),
             (75, 75, 0.38)],
    "pound": [(30, 39, 0.12), (40, 40, 0.19), (41, 55, 0.12), (56, 73, 0.07), (74, 74, 0.12), (75, 75, 0.07)],
    "scrub": [(30, 55, 0.12), (56, 75, 0.07)],
    "strip": [(30, 30, 0.14), (31, 33, 0.12), (34, 34, 0.15), (35, 35, 0.22), (36, 41, 0.20), (43, 45, 0.20), (46, 51, 0.17), (53, 53, 0.11),
              (54, 55, 0.10), (56, 73, 0.07), (74, 74, 0.12), (75, 75, 0.13)],
}

VA = {
    "pre": [(3, 14, 0.0), (16, 21, 0.10)],
    "back": [(2, 2, 0.0), (15, 15, 0.05), (16, 16, 0.12), (22, 39, 0.10), (40, 40, 0.12), (41, 46, 0.13), (47, 61, 0.11), (62, 62, 0.09),
             (63, 69, 0.14), (70, 75, 0.10)],
    "bite": [(15, 15, 0.05), (16, 16, 0.30), (17, 21, 0.38), (22, 22, 0.34), (23, 25, 0.26), (26, 32, 0.28), (34, 39, 0.28), (40, 40, 0.14),
             (41, 46, 0.13), (47, 62, 0.11), (63, 69, 0.13), (70, 75, 0.10)],
    "canine": [(15, 15, 0.05), (22, 39, 0.10), (40, 40, 0.14), (41, 42, 0.17), (43, 46, 0.16), (47, 62, 0.15), (63, 69, 0.17), (70, 70, 0.28),
               (71, 71, 0.26), (72, 72, 0.21), (73, 75, 0.20)],
    "chew": [(15, 15, 0.05), (22, 22, 0.18), (23, 25, 0.21), (26, 39, 0.20), (40, 40, 0.18), (41, 46, 0.16), (47, 47, 0.22), (48, 48, 0.28),
             (49, 49, 0.17), (50, 50, 0.28), (51, 52, 0.14), (53, 63, 0.28), (64, 70, 0.22), (71, 71, 0.17), (72, 75, 0.20)],
    "pound": [(15, 15, 0.05), (22, 39, 0.10), (40, 40, 0.14), (41, 46, 0.10), (47, 47, 0.09), (48, 48, 0.11), (49, 49, 0.07), (50, 73, 0.11),
              (74, 74, 0.15), (75, 75, 0.11)],
    "scrub": [(15, 15, 0.0), (22, 39, 0.10), (40, 40, 0.10), (41, 46, 0.10), (47, 47, 0.09), (48, 48, 0.11), (49, 49, 0.07), (50, 73, 0.11),
              (74, 74, 0.10), (75, 75, 0.11)],
    "strip": [(15, 15, 0.07), (22, 39, 0.10), (40, 41, 0.18), (42, 46, 0.16), (47, 62, 0.15), (63, 71, 0.10), (72, 72, 0.17), (73, 75, 0.18)],
}

WP = {
    "pre": [(3, 71, 0.0), (72, 72, 0.07), (73, 75, 0.14)],
    "back": [(2, 2, 0.0)],
    "bite": [],
    "canine": [],
    "chew": [(72, 72, 0.03)],
    "pound": [],
    "scrub": [],
    "strip": [(72, 72, 0.14)],
}

YJ = {
    "pre": [(3, 4, 0.0), (6, 7, 0.14), (9, 14, 0.12), (15, 18, 0.14)],
    "back": [(2, 2, 0.0), (7, 7, 0.16), (9, 9, 0.20), (13, 13, 0.20), (19, 21, 0.12), (22, 33, 0.16), (34, 42, 0.14), (43, 43, 0.16),
             (44, 48, 0.14), (49, 51, 0.15), (53, 56, 0.15), (57, 57, 0.17), (58, 67, 0.14), (68, 68, 0.27), (69, 69, 0.14), (70, 70, 0.19),
             (71, 71, 0.17), (72, 72, 0.20), (73, 73, 0.22), (74, 74, 0.25), (75, 75, 0.34)],
    "bite": [(11, 11, 0.12), (19, 21, 0.14), (22, 22, 0.18), (23, 33, 0.15), (34, 41, 0.14), (43, 51, 0.11), (52, 52, 0.10), (53, 63, 0.09),
             (64, 67, 0.07), (68, 73, 0.06), (74, 74, 0.12)],
    "canine": [(19, 39, 0.14), (40, 41, 0.14), (42, 42, 0.15), (43, 51, 0.15), (53, 53, 0.20), (54, 54, 0.26), (55, 55, 0.24), (56, 61, 0.17),
               (62, 65, 0.14), (66, 68, 0.15), (69, 69, 0.26), (70, 70, 0.28), (71, 71, 0.25), (72, 73, 0.20), (74, 74, 0.18), (75, 75, 0.19)],
    "chew": [(19, 21, 0.12), (22, 33, 0.16), (34, 35, 0.23), (36, 36, 0.24), (37, 37, 0.22), (38, 38, 0.19), (39, 41, 0.17), (43, 44, 0.16),
             (45, 45, 0.17), (46, 47, 0.25), (48, 48, 0.23), (49, 51, 0.20), (53, 53, 0.16), (54, 54, 0.14), (55, 55, 0.22), (56, 56, 0.27),
             (57, 58, 0.23), (59, 59, 0.28), (60, 60, 0.26), (61, 61, 0.27), (62, 62, 0.36), (63, 63, 0.39), (64, 64, 0.34), (65, 65, 0.27),
             (66, 66, 0.26), (67, 67, 0.25), (68, 68, 0.18), (69, 69, 0.20), (70, 70, 0.30), (71, 71, 0.28), (72, 72, 0.31), (73, 73, 0.28),
             (74, 74, 0.24), (75, 75, 0.20)],
    "pound": [(11, 11, 0.20), (19, 21, 0.12), (22, 22, 0.16), (23, 28, 0.12), (29, 34, 0.14), (35, 35, 0.09), (36, 46, 0.14), (47, 47, 0.09),
              (48, 48, 0.14), (49, 49, 0.09), (50, 73, 0.14), (74, 74, 0.25), (75, 75, 0.14)],
    "scrub": [(19, 21, 0.12), (22, 22, 0.10), (23, 28, 0.12), (29, 34, 0.14), (35, 35, 0.09), (36, 39, 0.14), (40, 40, 0.10), (41, 46, 0.14),
              (47, 47, 0.09), (48, 48, 0.14), (49, 49, 0.09), (50, 73, 0.14), (74, 74, 0.06), (75, 75, 0.14)],
    "strip": [(19, 21, 0.29), (22, 22, 0.21), (23, 23, 0.18), (24, 39, 0.17), (40, 41, 0.21), (43, 43, 0.18), (44, 44, 0.22), (45, 45, 0.20),
              (46, 47, 0.17), (48, 48, 0.18), (49, 51, 0.21), (53, 60, 0.15), (61, 70, 0.16), (71, 71, 0.12), (72, 72, 0.10), (73, 73, 0.08),
              (74, 74, 0.12), (75, 75, 0.07)],
}

LEFT_PANELS = [("BW", BW), ("EH", EH), ("EQ", EQ), ("GW", GW), ("IE", IE), ("LD", LD),
               ("LT", LT), ("MI", MI), ("NP", NP), ("RK", RK), ("VA", VA), ("YJ", YJ)]
RIGHT_PANELS = [("DV", DV), ("EI", EI), ("EV", EV), ("HE", HE), ("JU", JU), ("LN", LN),
                ("ME", ME), ("MX", MX), ("QJ", QJ), ("RZ", RZ), ("WP", WP)]


def expand(pre, runs):
    # turn (first, last, value) runs into one point per experimental day
    vals = {}
    for d0, d1, v in pre + runs:
        for d in range(d0, d1 + 1):
            if d not in NO_DATA_DAYS:
                vals[d] = v
    days = sorted(vals)
    return days, [vals[d] for d in days]


W, H = 1212, 1580
fig = plt.figure(figsize=(W / 100, H / 100), dpi=100)


def draw_panel(col, row, name, data):
    x0 = 66.2 if col == 0 else 656.9
    top = 13.3 + row * 129.04
    ax = fig.add_axes([x0 / W, 1 - (top + 100) / H, 561.2 / W, 100 / H])
    for i in DRAW_ORDER:
        days, vals = expand(data["pre"], data[KEYS[i]])
        ax.plot(days, vals, ls="none", marker="D", ms=3.0, mew=0, color=COLORS[i])
    ax.set_xlim(-1.96, 77.96)
    ax.set_ylim(-0.04, 1.04)
    ax.set_xticks([0, 20, 40, 60])
    ax.set_yticks([0, 0.2, 0.4, 0.6, 0.8, 1.0])
    ax.set_yticklabels(["0.0", "", "0.4", "", "0.8", ""], rotation=90, va="center")
    ax.tick_params(labelsize=9, length=4, width=0.8, colors="#222222")
    ax.tick_params(axis="x", pad=3.5)
    ax.tick_params(axis="y", pad=2.5)
    for sp in ax.spines.values():
        sp.set_linewidth(1.1)
    ax.text(0.008, 0.80, name, transform=ax.transAxes, fontsize=14,
            fontweight="bold", va="center", ha="left")
    return ax


for i, (name, data) in enumerate(LEFT_PANELS):
    draw_panel(0, i, name, data)
for i, (name, data) in enumerate(RIGHT_PANELS):
    draw_panel(1, i, name, data)

# legend: two rows of evenly spaced entries
legend_rows = [
    (1461, [0, 1, 2], [748, 885, 1022]),
    (1506, [3, 4, 5, 6], [706, 830, 953.5, 1077]),
]
fs = 10
for y, idxs, xs in legend_rows:
    for i, xc in zip(idxs, xs):
        h = Line2D([], [], ls="none", marker="s", ms=8, mew=0, color=COLORS[i])
        left = xc - fs * 100 / 72 / 2
        fig.legend([h], [TECHNIQUES[i]], loc="center left",
                   bbox_to_anchor=(left / W, 1 - y / H), frameon=False,
                   fontsize=fs, handlelength=1.0, handletextpad=0.75,
                   borderpad=0, borderaxespad=0)

fig.text(642 / W, 1 - 1566 / H, "Experimental Days (N=75)", fontsize=17,
         ha="center", va="center")
fig.text(22 / W, 1 - 773 / H, "daily average probability of choosing technique",
         fontsize=20, rotation=90, ha="center", va="center")

fig.savefig("out.png", dpi=100)
